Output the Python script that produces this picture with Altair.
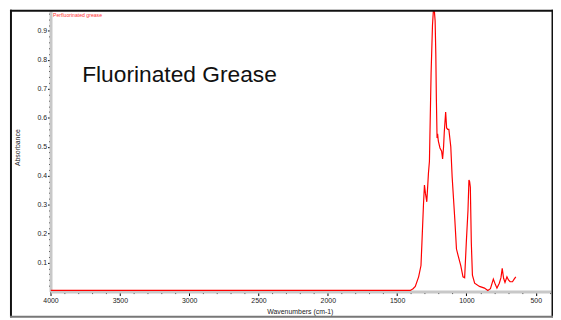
import altair as alt
import pandas as pd

# Spectrum (wavenumber in cm-1, absorbance)
wavenumber = [4000, 3500, 3000, 2500, 2000, 1500, 1405, 1385, 1369, 1345, 1328, 1321,
              1310, 1303, 1296, 1286, 1274, 1267, 1255, 1245, 1238, 1234, 1230, 1226,
              1221, 1217, 1212, 1208, 1203, 1191, 1179, 1172, 1165, 1160, 1150, 1143,
              1135, 1127, 1113, 1103, 1084, 1072, 1060, 1041, 1025, 1013, 1001, 989,
              982, 977, 972, 965, 957, 941, 906, 870, 846, 827, 806, 792, 780, 763,
              751, 742, 732, 722, 708, 697, 685, 668, 656, 644]
absorbance = [0.004, 0.004, 0.004, 0.004, 0.004, 0.004, 0.004, 0.010, 0.018, 0.051, 0.090, 0.170,
              0.300, 0.368, 0.340, 0.310, 0.410, 0.450, 0.755, 0.920, 0.975, 0.995, 0.960, 0.935,
              0.820, 0.665, 0.530, 0.545, 0.520, 0.496, 0.485, 0.458, 0.500, 0.550, 0.620, 0.565,
              0.560, 0.560, 0.500, 0.395, 0.250, 0.147, 0.124, 0.090, 0.051, 0.048, 0.170, 0.280,
              0.385, 0.380, 0.360, 0.170, 0.057, 0.029, 0.018, 0.012, 0.004, 0.010, 0.043, 0.025,
              0.012, 0.029, 0.048, 0.080, 0.046, 0.032, 0.051, 0.040, 0.034, 0.034, 0.043, 0.051]

x_ticks = list(range(4000, 399, -100))
y_ticks = [round(0.02 * i, 2) for i in range(1, 49)]

title_text = ["Fluorinated Grease"]
legend_text = ["Perfluorinated grease"]

FONT = "Liberation Sans"

df = pd.DataFrame({"wavenumber": wavenumber, "absorbance": absorbance})

line = alt.Chart(df).mark_line(color="#ff0000", strokeWidth=1.2, clip=True).encode(
    x=alt.X(
        "wavenumber:Q",
        scale=alt.Scale(domain=[4000, 390], nice=False, zero=False),
        axis=alt.Axis(
            title="Wavenumbers (cm-1)",
            values=x_ticks,
            labelExpr="datum.value % 500 === 0 ? format(datum.value, 'd') : ''",
            tickSize={"condition": {"test": "datum.value % 500 === 0", "value": 4}, "value": 2},
            labelPadding=1,
            labelFlush=False,
            labelOverlap=False,
            titleX=252,
            titleY=20,
            titleBaseline="middle",
            titleAlign="center",
        ),
    ),
    y=alt.Y(
        "absorbance:Q",
        scale=alt.Scale(domain=[0, 0.97], nice=False, zero=False),
        axis=alt.Axis(
            title="Absorbance",
            values=y_ticks,
            labelExpr="abs(datum.value * 10 - round(datum.value * 10)) < 0.001 ? format(datum.value, '.1f') : ''",
            tickSize={"condition": {"test": "abs(datum.value * 10 - round(datum.value * 10)) < 0.001", "value": 3}, "value": 2},
            labelPadding=1,
            labelFlush=False,
            labelOverlap=False,
            titleX=-33,
            titleY=138,
            titleBaseline="middle",
            titleAlign="center",
            titleAngle=-90,
        ),
    ),
)

one = alt.Chart(pd.DataFrame({"k": [0]}))

frame_left = one.mark_rule(color="#111111", strokeWidth=2).encode(
    x=alt.value(-40), y=alt.value(-1), y2=alt.value(310))
frame_right = one.mark_rule(color="#111111", strokeWidth=2).encode(
    x=alt.value(507.5), y=alt.value(-1), y2=alt.value(310))
frame_top = one.mark_rule(color="#111111", strokeWidth=2).encode(
    x=alt.value(-41), x2=alt.value(508.5), y=alt.value(0))
frame_bottom = one.mark_rule(color="#777777", strokeWidth=2).encode(
    x=alt.value(-41), x2=alt.value(508.5), y=alt.value(309.5))

big_title = alt.Chart(pd.DataFrame({"t": title_text})).mark_text(
    font=FONT, fontSize=23, align="left", baseline="alphabetic", color="#111111"
).encode(text="t:N", x=alt.value(32), y=alt.value(72.5))

small_label = alt.Chart(pd.DataFrame({"t": legend_text})).mark_text(
    font=FONT, fontSize=5.2, align="left", baseline="top", color="#ff3333"
).encode(text="t:N", x=alt.value(2.5), y=alt.value(2.5))

chart = alt.layer(
    line, big_title, small_label, frame_left, frame_right, frame_top, frame_bottom
).properties(
    width=506,
    height=284,
    padding={"left": 43, "top": 1, "right": 2, "bottom": 27},
    autosize=alt.AutoSizeParams(type="none"),
    background="white",
).configure_view(
    stroke=None
).configure_axis(
    grid=False,
    domainColor="#c8c8c8",
    domainWidth=3,
    tickColor="#000000",
    tickWidth=1,
    labelFont=FONT,
    labelFontSize=7,
    labelColor="#222222",
    titleFont=FONT,
    titleFontSize=7,
    titleFontWeight="normal",
    titleColor="#222222",
)

chart.save("out.html", embed_options={"renderer": "svg", "actions": False})
